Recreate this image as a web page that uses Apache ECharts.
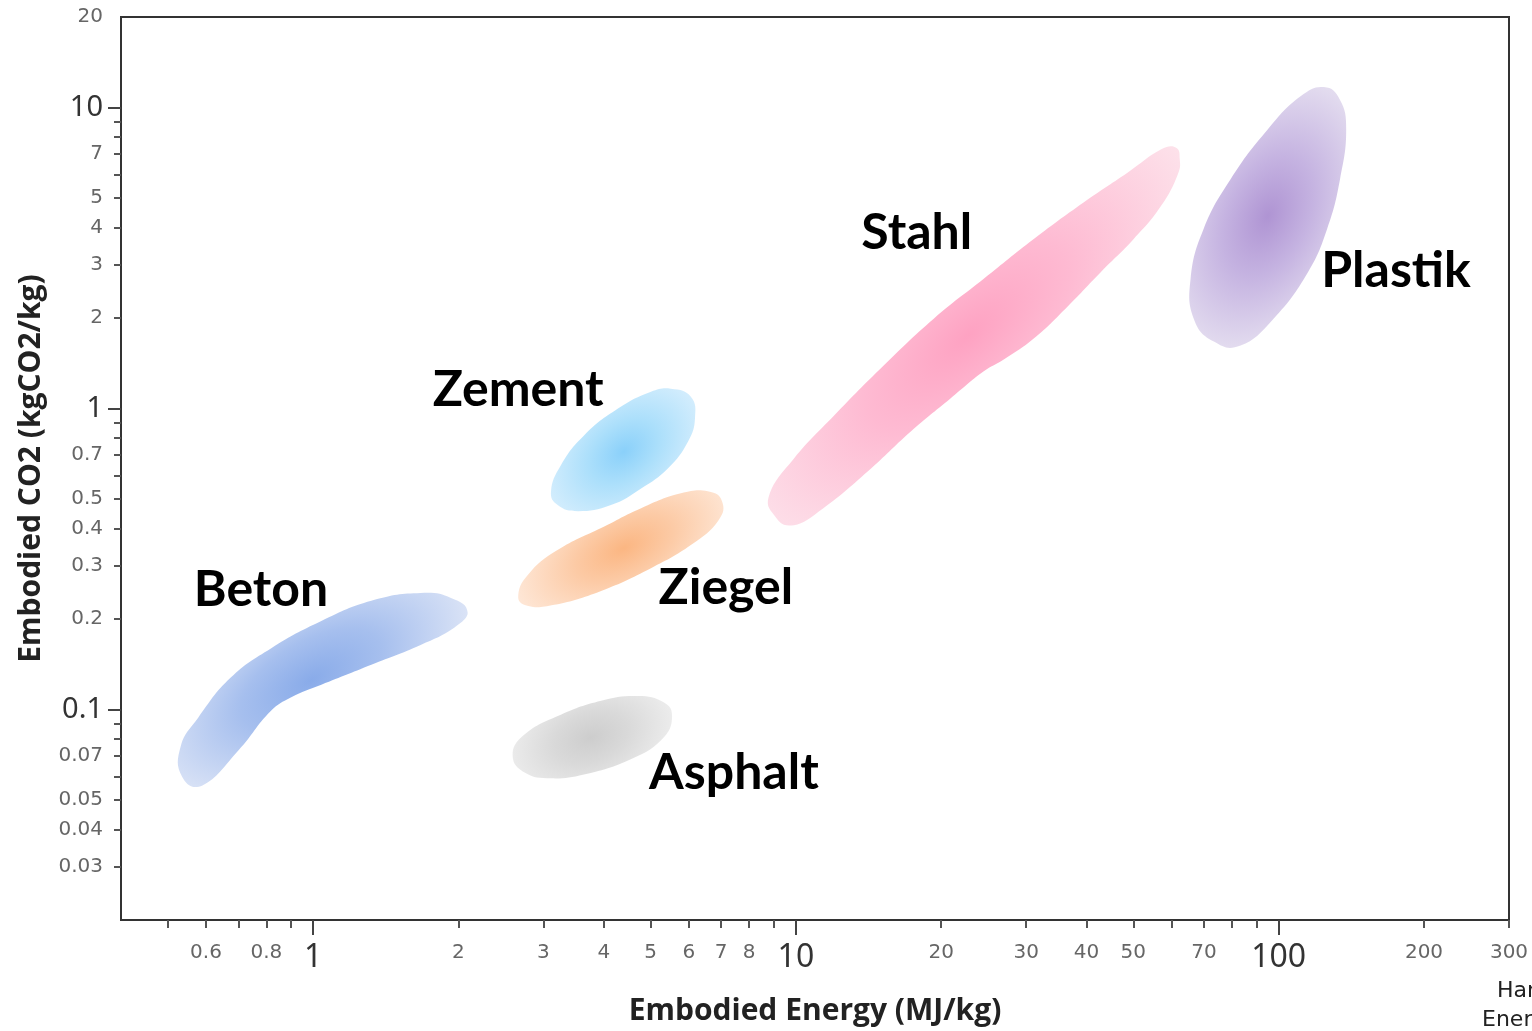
<!DOCTYPE html>
<html>
<head>
<meta charset="utf-8">
<title>Embodied Energy vs Embodied CO2</title>
<script src="https://cdn.jsdelivr.net/npm/echarts@6/dist/echarts.min.js"></script>
<style>
  html, body { margin: 0; padding: 0; background: #fff; }
  #chart { width: 1532px; height: 1031px; }
</style>
</head>
<body>
<div id="chart"></div>
<script>
// materials, one blob each
const materials = ['Beton', 'Zement', 'Ziegel', 'Asphalt', 'Stahl', 'Plastik'];

// blob outlines [energy MJ/kg, co2 kgCO2/kg]
const betonOutline = [
  [0.533, 0.0766], [0.578, 0.094], [0.676, 0.128], [0.819, 0.160], [1.04, 0.197],
  [1.32, 0.230], [1.67, 0.244], [1.93, 0.235], [2.09, 0.210], [1.96, 0.187],
  [1.67, 0.164], [1.32, 0.141], [1.04, 0.121], [0.901, 0.110], [0.819, 0.0993],
  [0.700, 0.0731], [0.590, 0.0560], [0.535, 0.0600]
];
const zementOutline = [
  [5.51, 1.165], [6.06, 1.096], [6.18, 0.927], [5.98, 0.778], [5.43, 0.633],
  [4.78, 0.543], [4.14, 0.478], [3.54, 0.456], [3.21, 0.478], [3.11, 0.531],
  [3.26, 0.648], [3.64, 0.814], [4.28, 1.0], [5.01, 1.138]
];
const ziegelOutline = [
  [6.57, 0.531], [7.03, 0.492], [6.90, 0.423], [6.06, 0.352], [5.01, 0.295],
  [3.95, 0.248], [3.16, 0.223], [2.79, 0.221], [2.66, 0.240], [2.83, 0.289],
  [3.26, 0.344], [3.95, 0.401], [4.78, 0.467], [5.78, 0.523]
];
const asphaltOutline = [
  [4.62, 0.111], [5.25, 0.107], [5.54, 0.0955], [5.25, 0.0789], [4.49, 0.0678],
  [3.64, 0.0609], [3.11, 0.0591], [2.76, 0.0614], [2.59, 0.0704], [2.74, 0.0826],
  [3.26, 0.0962], [3.95, 0.107]
];
const stahlOutline = [
  [57.0, 7.26], [61.2, 7.37], [62.4, 6.73], [61.8, 6.00], [57.0, 4.70],
  [50.1, 3.66], [42.8, 2.84], [36.6, 2.19], [31.1, 1.71], [27.0, 1.46],
  [24.5, 1.33], [20.9, 1.08], [17.3, 0.839], [14.1, 0.619], [11.4, 0.467],
  [9.91, 0.410], [9.01, 0.443], [8.83, 0.523], [9.91, 0.683], [12.0, 0.948],
  [15.2, 1.39], [19.3, 1.99], [24.5, 2.70], [31.1, 3.66], [39.5, 4.85], [48.7, 6.09]
];
const plastikOutline = [
  [124, 11.7], [134, 10.6], [138, 8.46], [134, 5.78], [126, 3.95],
  [115, 2.84], [97.6, 1.99], [83.4, 1.62], [73.4, 1.67], [66.7, 1.99],
  [65.7, 2.70], [69.9, 3.95], [79.5, 5.78], [94.9, 8.46], [111, 10.9]
];
const outlines = [betonOutline, zementOutline, ziegelOutline, asphaltOutline, stahlOutline, plastikOutline];

// darkest spot of each blob
const cores = [[0.99, 0.125], [4.40, 0.72], [4.40, 0.344], [3.76, 0.0808], [22.7, 1.745], [94.9, 4.36]];
// where each name sits
const labelPoints = [[0.78, 0.25], [2.66, 1.156], [7.16, 0.2535], [7.44, 0.0614], [17.8, 3.83], [175, 2.864]];

// axis ticks
const xTicks = [0.5, 0.6, 0.7, 0.8, 0.9, 2, 3, 4, 5, 6, 7, 8, 9, 20, 30, 40, 50, 60, 70, 80, 90, 200, 300];
const xLabels = [0.6, 0.8, 2, 3, 4, 5, 6, 7, 8, 20, 30, 40, 50, 70, 200, 300];
const xMajor = [1, 10, 100];
const yTicks = [0.03, 0.04, 0.05, 0.06, 0.07, 0.08, 0.09, 0.2, 0.3, 0.4, 0.5, 0.6, 0.7, 0.8, 0.9, 2, 3, 4, 5, 6, 7, 8, 9];
const yLabels = [0.03, 0.04, 0.05, 0.07, 0.2, 0.3, 0.4, 0.5, 0.7, 2, 3, 4, 5, 7, 20];
const yMajor = [0.1, 1, 10];

// blob colours: [centre, middle, edge]
const colors = [
  ['#89abe9', '#a6bfee', '#dae3f6'],
  ['#8ad0fa', '#abdffb', '#d3edfd'],
  ['#fbb682', '#fccaa5', '#fee6d5'],
  ['#cdcdcd', '#d9d9d9', '#ececec'],
  ['#fea2c2', '#febad2', '#fde1ea'],
  ['#af94d3', '#c5b3e1', '#e3dcef']
];

const chart = echarts.init(document.getElementById('chart'));

const fmt = v => String(+(+v).toPrecision(3));
const gridBox = { left: 121, top: 17, right: 23, bottom: 111 };

function renderBlob(params, api) {
  const i = api.value(2);
  const c = api.coord([cores[i][0], cores[i][1]]);
  const pts = outlines[i].map(p => api.coord(p));
  // principal direction of the outline, so the gradient follows the blob
  let mx = 0, my = 0;
  pts.forEach(p => { mx += p[0]; my += p[1]; });
  mx /= pts.length; my /= pts.length;
  let sxx = 0, syy = 0, sxy = 0;
  pts.forEach(p => {
    const dx = p[0] - mx, dy = p[1] - my;
    sxx += dx * dx; syy += dy * dy; sxy += dx * dy;
  });
  const theta = 0.5 * Math.atan2(2 * sxy, sxx - syy);
  const tr = (sxx + syy) / 2, df = Math.sqrt(((sxx - syy) / 2) ** 2 + sxy * sxy);
  // softer across the blob than along it
  const ratio = Math.sqrt(Math.max(0.2, Math.sqrt((tr - df) / (tr + df))));
  const cs = Math.cos(theta), sn = Math.sin(theta);
  let r = 0;
  const local = pts.map(p => {
    const dx = p[0] - c[0], dy = p[1] - c[1];
    const u = dx * cs + dy * sn;
    const v = (-dx * sn + dy * cs) / ratio;
    r = Math.max(r, Math.hypot(u, v));
    return [u, v];
  });
  return {
    type: 'polygon',
    x: c[0], y: c[1],
    rotation: -theta,
    scaleY: ratio,
    shape: { points: local, smooth: 0.45 },
    style: {
      fill: new echarts.graphic.RadialGradient(0, 0, r, [
        { offset: 0, color: colors[i][0] },
        { offset: 0.45, color: colors[i][1] },
        { offset: 1, color: colors[i][2] }
      ], true)
    }
  };
}

const option = {
  backgroundColor: '#fff',
  animation: false,
  grid: [
    Object.assign({ show: true, borderColor: '#333', borderWidth: 2, backgroundColor: '#fff' }, gridBox),
    Object.assign({ show: false }, gridBox)
  ],
  xAxis: [
    {
      type: 'log', logBase: 10, min: 0.4, max: 300, gridIndex: 0,
      name: 'Embodied Energy (MJ/kg)', nameLocation: 'middle', nameGap: 76,
      nameTextStyle: { fontFamily: 'Open Sans', fontWeight: 'bold', fontSize: 30, color: '#222' },
      axisLine: { show: true, lineStyle: { color: '#333', width: 2 } },
      splitLine: { show: false }, minorTick: { show: false },
      axisTick: { show: true, customValues: xTicks, length: 8, lineStyle: { color: '#555', width: 2 } },
      axisLabel: { customValues: xLabels, formatter: fmt, margin: 23, fontSize: 20,
        color: '#666', fontFamily: 'DejaVu Sans' }
    },
    {
      type: 'log', logBase: 10, min: 0.4, max: 300, gridIndex: 1,
      axisLine: { show: false }, splitLine: { show: false },
      axisTick: { show: true, customValues: xMajor, length: 15, lineStyle: { color: '#444', width: 2 } },
      axisLabel: { customValues: xMajor, formatter: fmt, margin: 22, fontSize: 32,
        color: '#333', fontFamily: 'Noto Sans' }
    }
  ],
  yAxis: [
    {
      type: 'log', logBase: 10, min: 0.02, max: 20, gridIndex: 0,
      name: 'Embodied CO2 (kgCO2/kg)', nameLocation: 'middle', nameGap: 75,
      nameTextStyle: { fontFamily: 'Open Sans', fontWeight: 'bold', fontSize: 30, color: '#222' },
      axisLine: { show: true, lineStyle: { color: '#333', width: 2 } },
      splitLine: { show: false }, minorTick: { show: false },
      axisTick: { show: true, customValues: yTicks, length: 7, lineStyle: { color: '#555', width: 2 } },
      axisLabel: { customValues: yLabels, formatter: fmt, margin: 18, fontSize: 20,
        color: '#666', fontFamily: 'DejaVu Sans' }
    },
    {
      type: 'log', logBase: 10, min: 0.02, max: 20, gridIndex: 1,
      axisLine: { show: false }, splitLine: { show: false },
      axisTick: { show: true, customValues: yMajor, length: 13, lineStyle: { color: '#444', width: 2 } },
      axisLabel: { customValues: yMajor, formatter: fmt, margin: 18, fontSize: 29,
        color: '#333', fontFamily: 'Noto Sans' }
    }
  ],
  series: [
    {
      type: 'custom',
      xAxisIndex: 0, yAxisIndex: 0,
      clip: true,
      renderItem: renderBlob,
      encode: { x: 0, y: 1 },
      data: materials.map((m, i) => [cores[i][0], cores[i][1], i])
    },
    {
      type: 'scatter',
      xAxisIndex: 0, yAxisIndex: 0,
      symbolSize: 0,
      z: 5,
      itemStyle: { opacity: 1 },
      label: {
        show: true, position: 'inside', opacity: 1,
        formatter: p => p.data[2],
        fontFamily: 'Lato', fontWeight: 'bold', fontSize: 50, color: '#000'
      },
      data: materials.map((m, i) => [labelPoints[i][0], labelPoints[i][1], m])
    }
  ],
  graphic: [
    { type: 'text', left: 1497, top: 980, style: { text: 'Hammond & Jones', fontFamily: 'DejaVu Sans', fontSize: 22, fill: '#222' } },
    { type: 'text', left: 1482, top: 1009, style: { text: 'Energy and Carbon', fontFamily: 'DejaVu Sans', fontSize: 22, fill: '#222' } }
  ]
};

chart.setOption(option);
</script>
</body>
</html>
